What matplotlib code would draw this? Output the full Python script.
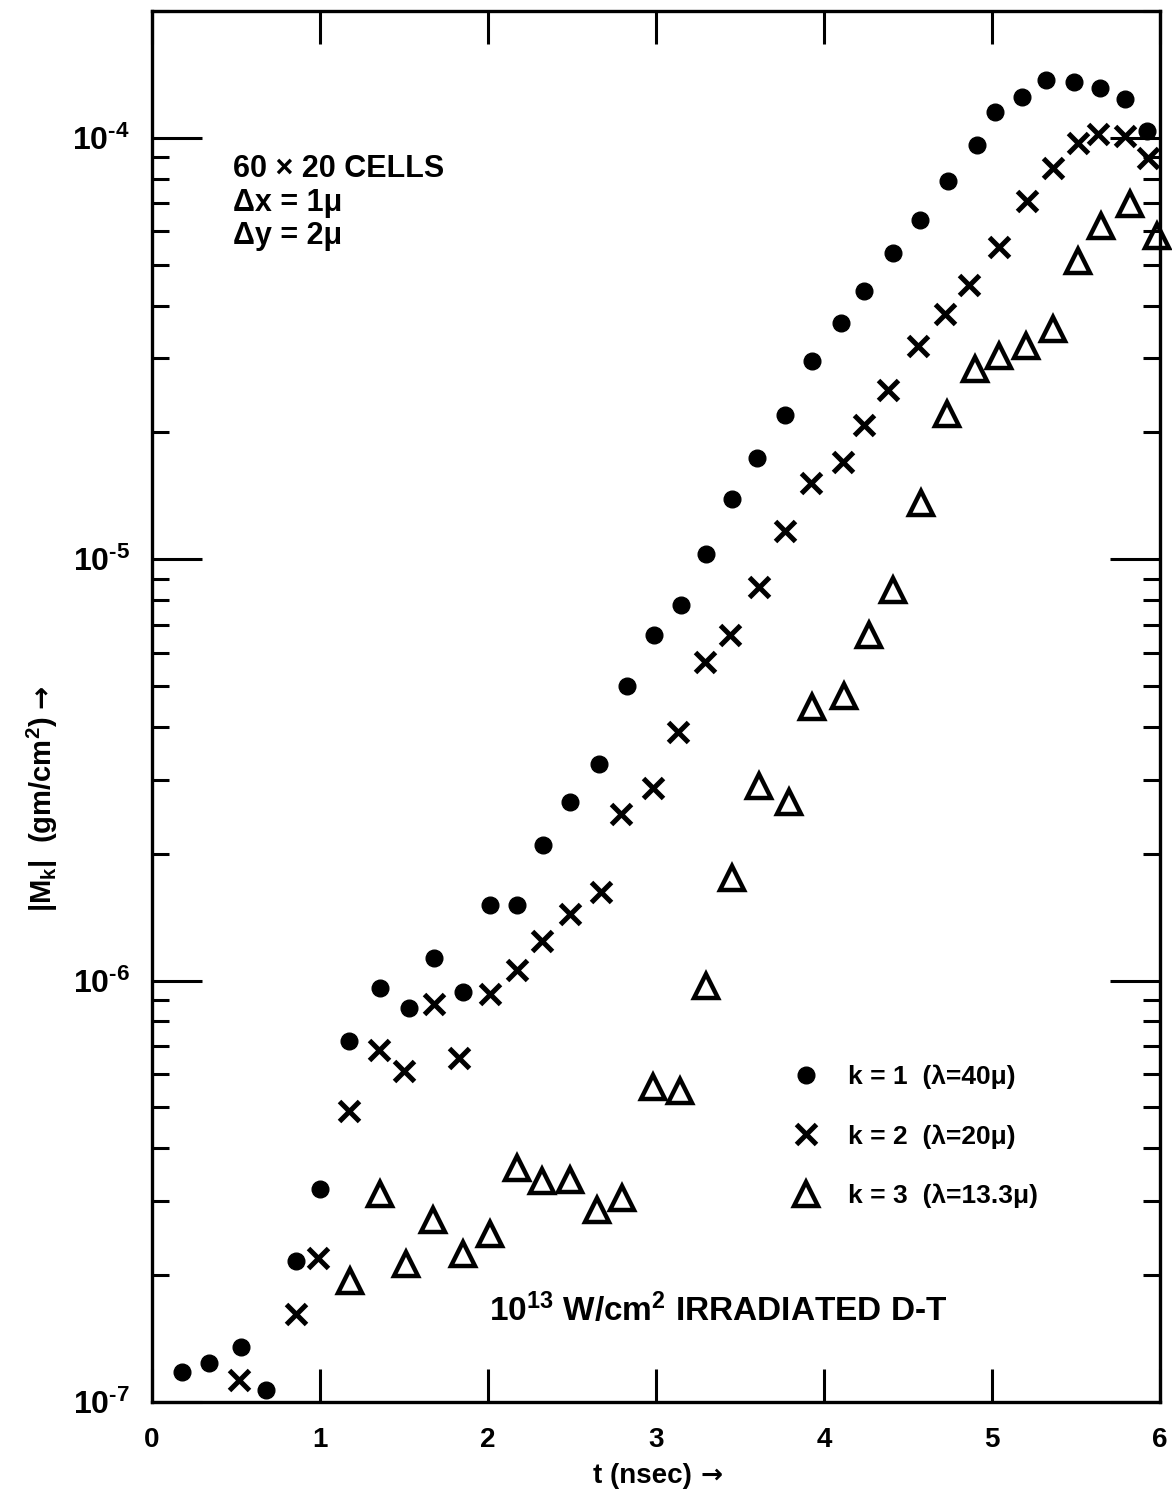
import matplotlib
matplotlib.use("Agg")
import matplotlib.pyplot as plt
from matplotlib.ticker import LogLocator, NullFormatter, FixedLocator

plt.rcParams['font.family'] = ['Liberation Sans', 'DejaVu Sans']
plt.rcParams['font.weight'] = 'bold'
plt.rcParams['mathtext.fontset'] = 'custom'
plt.rcParams['mathtext.rm'] = 'Liberation Sans:bold'
plt.rcParams['mathtext.it'] = 'Liberation Sans:bold'
plt.rcParams['mathtext.bf'] = 'Liberation Sans:bold'
plt.rcParams['mathtext.default'] = 'regular'

# k = 1 (lambda = 40 mu)
t1 = [0.18, 0.34, 0.53, 0.68, 0.86, 1.00, 1.17, 1.36, 1.53, 1.68, 1.85, 2.01, 2.17,
      2.33, 2.49, 2.66, 2.83, 2.99, 3.15, 3.30, 3.45, 3.60, 3.77, 3.93, 4.10, 4.24,
      4.41, 4.57, 4.74, 4.91, 5.02, 5.18, 5.32, 5.49, 5.64, 5.79, 5.92]
m1 = [1.18e-7, 1.24e-7, 1.35e-7, 1.07e-7, 2.16e-7, 3.2e-7, 7.2e-7, 9.6e-7, 8.6e-7,
      1.13e-6, 9.4e-7, 1.51e-6, 1.51e-6, 2.10e-6, 2.66e-6, 3.26e-6, 5.0e-6, 6.6e-6,
      7.8e-6, 1.03e-5, 1.39e-5, 1.74e-5, 2.2e-5, 2.95e-5, 3.64e-5, 4.33e-5, 5.33e-5,
      6.4e-5, 7.9e-5, 9.6e-5, 1.15e-4, 1.25e-4, 1.37e-4, 1.36e-4, 1.31e-4, 1.24e-4,
      1.04e-4]

# k = 2 (lambda = 20 mu)
t2 = [0.52, 0.86, 0.99, 1.17, 1.35, 1.50, 1.68, 1.83, 2.01, 2.17, 2.32, 2.49, 2.67,
      2.79, 2.98, 3.13, 3.29, 3.44, 3.61, 3.77, 3.92, 4.11, 4.24, 4.38, 4.56, 4.72,
      4.86, 5.04, 5.21, 5.36, 5.51, 5.63, 5.79, 5.93]
m2 = [1.13e-7, 1.62e-7, 2.2e-7, 4.9e-7, 6.86e-7, 6.1e-7, 8.8e-7, 6.56e-7, 9.27e-7,
      1.06e-6, 1.24e-6, 1.44e-6, 1.62e-6, 2.49e-6, 2.86e-6, 3.9e-6, 5.7e-6, 6.6e-6,
      8.6e-6, 1.17e-5, 1.52e-5, 1.70e-5, 2.08e-5, 2.52e-5, 3.2e-5, 3.82e-5, 4.48e-5,
      5.5e-5, 7.1e-5, 8.5e-5, 9.7e-5, 1.02e-4, 1.01e-4, 8.96e-5]

# k = 3 (lambda = 13.3 mu)
t3 = [1.18, 1.36, 1.51, 1.67, 1.85, 2.01, 2.17, 2.32, 2.49, 2.65, 2.80, 2.98, 3.14,
      3.30, 3.45, 3.61, 3.79, 3.93, 4.12, 4.27, 4.41, 4.58, 4.73, 4.90, 5.04, 5.20,
      5.36, 5.51, 5.65, 5.82, 5.98]
m3 = [1.94e-7, 3.12e-7, 2.13e-7, 2.7e-7, 2.25e-7, 2.5e-7, 3.6e-7, 3.35e-7, 3.37e-7,
      2.86e-7, 3.05e-7, 5.6e-7, 5.48e-7, 9.7e-7, 1.75e-6, 2.9e-6, 2.66e-6, 4.45e-6,
      4.73e-6, 6.6e-6, 8.44e-6, 1.36e-5, 2.21e-5, 2.83e-5, 3.03e-5, 3.2e-5, 3.52e-5,
      5.1e-5, 6.18e-5, 6.97e-5, 5.85e-5]

xticks = [0, 1, 2, 3, 4, 5, 6]
yticks = [1e-7, 1e-6, 1e-5, 1e-4]
ylabels = ['$10^{\u20107}$', '$10^{\u20106}$', '$10^{\u20105}$', '$10^{\u20104}$']

fig = plt.figure(figsize=(11.72, 14.94), dpi=100)
ax = fig.add_axes([0.1297, 0.0616, 0.8601, 0.931])

ax.plot(t1, m1, 'o', color='black', ms=12, label='k = 1  (λ=40μ)', clip_on=False)
ax.plot(t2, m2, 'x', color='black', ms=14, mew=3.6, label='k = 2  (λ=20μ)', clip_on=False)
ax.plot(t3, m3, '^', color='black', mfc='none', ms=17, mew=3.2, label='k = 3  (λ=13.3μ)',
        clip_on=False)

ax.set_yscale('log')
ax.set_xlim(0, 6)
ax.set_ylim(1e-7, 2e-4)

for s in ax.spines.values():
    s.set_linewidth(2.4)

ax.xaxis.set_major_locator(FixedLocator(xticks))
ax.set_xticklabels([str(v) for v in xticks])
ax.yaxis.set_major_locator(FixedLocator(yticks))
ax.set_yticklabels(ylabels)
ax.yaxis.set_minor_locator(LogLocator(base=10, subs=range(2, 10)))
ax.yaxis.set_minor_formatter(NullFormatter())

ax.tick_params(axis='x', which='major', direction='in', length=24, width=2.2,
               top=True, labelsize=20, pad=18)
ax.tick_params(axis='y', which='major', direction='in', length=36, width=2.2,
               right=True, labelsize=23, pad=16)
ax.tick_params(axis='y', which='minor', direction='in', length=12, width=2.2, right=True)

ax.text(0.08, 0.897, '60 × 20 CELLS\nΔx = 1μ\nΔy = 2μ', transform=ax.transAxes,
        fontsize=22, fontweight='bold', va='top', ha='left', linespacing=1.15)
ax.text(0.562, 0.066, '$10^{13}$ W/cm$^{2}$ IRRADIATED D-T', transform=ax.transAxes,
        fontsize=24, fontweight='bold', va='center', ha='center')

ax.legend(loc='upper left', bbox_to_anchor=(0.62, 0.252), frameon=False, fontsize=19,
          labelspacing=1.33, handletextpad=1.0, borderpad=0, handlelength=1.2)

ylab = fig.text(42 / 1172, 0.455, '|M$_{k}$|  (gm/cm$^{2}$)', rotation=90, fontsize=21,
                fontweight='bold', ha='center', va='center')
ax.annotate('→', xy=(0.5, 1), xycoords=ylab, xytext=(0, 6), textcoords='offset points',
            rotation=90, fontsize=20, fontweight='bold', family='DejaVu Sans',
            ha='center', va='bottom', annotation_clip=False)
xlab = fig.text(0.548, 0.012, 't (nsec)', fontsize=20, fontweight='bold',
                ha='center', va='center')
ax.annotate('→', xy=(1, 0.5), xycoords=xlab, xytext=(6, 0), textcoords='offset points',
            fontsize=19, fontweight='bold', family='DejaVu Sans',
            ha='left', va='center', annotation_clip=False)

fig.savefig('out.png', dpi=100)
